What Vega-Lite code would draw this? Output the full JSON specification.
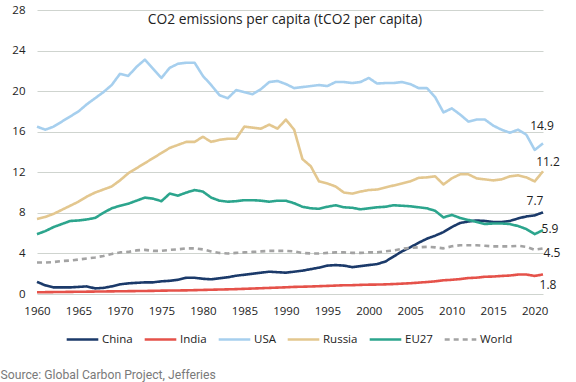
{
  "$schema": "https://vega.github.io/schema/vega-lite/v6.json",
  "width": 506,
  "height": 284,
  "autosize": {"type": "none"},
  "padding": {"left": 37, "top": 10, "right": 33, "bottom": 88},
  "title": {
    "text": "CO2 emissions per capita (tCO2 per capita)",
    "font": "Open Sans",
    "fontSize": 13.8,
    "fontWeight": "normal",
    "color": "#222222",
    "anchor": "middle",
    "baseline": "alphabetic",
    "offset": -34,
    "dx": -5
  },
  "datasets": {
    "co2": [
      {"year": 1960, "China": 1.2, "India": 0.17, "USA": 16.5, "Russia": 7.4, "EU27": 5.9, "World": 3.1},
      {"year": 1961, "China": 0.85, "India": 0.18, "USA": 16.2, "Russia": 7.6, "EU27": 6.2, "World": 3.1},
      {"year": 1962, "China": 0.65, "India": 0.19, "USA": 16.5, "Russia": 7.9, "EU27": 6.6, "World": 3.15},
      {"year": 1963, "China": 0.65, "India": 0.2, "USA": 17.0, "Russia": 8.3, "EU27": 6.9, "World": 3.25},
      {"year": 1964, "China": 0.65, "India": 0.21, "USA": 17.5, "Russia": 8.7, "EU27": 7.2, "World": 3.3},
      {"year": 1965, "China": 0.7, "India": 0.22, "USA": 18.0, "Russia": 9.1, "EU27": 7.25, "World": 3.4},
      {"year": 1966, "China": 0.75, "India": 0.23, "USA": 18.7, "Russia": 9.6, "EU27": 7.35, "World": 3.5},
      {"year": 1967, "China": 0.55, "India": 0.24, "USA": 19.3, "Russia": 10.0, "EU27": 7.5, "World": 3.6},
      {"year": 1968, "China": 0.6, "India": 0.25, "USA": 19.9, "Russia": 10.3, "EU27": 8.0, "World": 3.75},
      {"year": 1969, "China": 0.75, "India": 0.26, "USA": 20.6, "Russia": 10.6, "EU27": 8.45, "World": 3.95},
      {"year": 1970, "China": 0.95, "India": 0.27, "USA": 21.7, "Russia": 11.2, "EU27": 8.7, "World": 4.1},
      {"year": 1971, "China": 1.05, "India": 0.28, "USA": 21.5, "Russia": 11.9, "EU27": 8.9, "World": 4.15},
      {"year": 1972, "China": 1.1, "India": 0.29, "USA": 22.4, "Russia": 12.4, "EU27": 9.2, "World": 4.3},
      {"year": 1973, "China": 1.15, "India": 0.3, "USA": 23.1, "Russia": 12.9, "EU27": 9.5, "World": 4.35},
      {"year": 1974, "China": 1.15, "India": 0.31, "USA": 22.2, "Russia": 13.4, "EU27": 9.4, "World": 4.25},
      {"year": 1975, "China": 1.25, "India": 0.33, "USA": 21.3, "Russia": 13.9, "EU27": 9.15, "World": 4.25},
      {"year": 1976, "China": 1.3, "India": 0.34, "USA": 22.3, "Russia": 14.4, "EU27": 9.9, "World": 4.35},
      {"year": 1977, "China": 1.4, "India": 0.35, "USA": 22.7, "Russia": 14.7, "EU27": 9.7, "World": 4.4},
      {"year": 1978, "China": 1.6, "India": 0.36, "USA": 22.8, "Russia": 15.0, "EU27": 10.0, "World": 4.5},
      {"year": 1979, "China": 1.6, "India": 0.38, "USA": 22.8, "Russia": 15.0, "EU27": 10.25, "World": 4.5},
      {"year": 1980, "China": 1.5, "India": 0.4, "USA": 21.5, "Russia": 15.5, "EU27": 10.1, "World": 4.4},
      {"year": 1981, "China": 1.45, "India": 0.42, "USA": 20.6, "Russia": 15.0, "EU27": 9.5, "World": 4.2},
      {"year": 1982, "China": 1.55, "India": 0.44, "USA": 19.6, "Russia": 15.2, "EU27": 9.2, "World": 4.05},
      {"year": 1983, "China": 1.65, "India": 0.46, "USA": 19.3, "Russia": 15.3, "EU27": 9.1, "World": 4.0},
      {"year": 1984, "China": 1.8, "India": 0.48, "USA": 20.1, "Russia": 15.3, "EU27": 9.15, "World": 4.05},
      {"year": 1985, "China": 1.9, "India": 0.51, "USA": 19.9, "Russia": 16.5, "EU27": 9.25, "World": 4.1},
      {"year": 1986, "China": 2.0, "India": 0.54, "USA": 19.7, "Russia": 16.4, "EU27": 9.25, "World": 4.15},
      {"year": 1987, "China": 2.1, "India": 0.57, "USA": 20.2, "Russia": 16.3, "EU27": 9.2, "World": 4.2},
      {"year": 1988, "China": 2.2, "India": 0.6, "USA": 20.9, "Russia": 16.7, "EU27": 9.1, "World": 4.25},
      {"year": 1989, "China": 2.15, "India": 0.63, "USA": 21.0, "Russia": 16.3, "EU27": 9.2, "World": 4.25},
      {"year": 1990, "China": 2.1, "India": 0.66, "USA": 20.7, "Russia": 17.2, "EU27": 9.2, "World": 4.25},
      {"year": 1991, "China": 2.2, "India": 0.7, "USA": 20.3, "Russia": 16.2, "EU27": 8.95, "World": 4.2},
      {"year": 1992, "China": 2.3, "India": 0.72, "USA": 20.4, "Russia": 13.3, "EU27": 8.6, "World": 4.05},
      {"year": 1993, "China": 2.45, "India": 0.74, "USA": 20.5, "Russia": 12.6, "EU27": 8.45, "World": 4.0},
      {"year": 1994, "China": 2.6, "India": 0.77, "USA": 20.6, "Russia": 11.1, "EU27": 8.4, "World": 4.0},
      {"year": 1995, "China": 2.8, "India": 0.8, "USA": 20.5, "Russia": 10.9, "EU27": 8.6, "World": 4.05},
      {"year": 1996, "China": 2.85, "India": 0.83, "USA": 20.9, "Russia": 10.6, "EU27": 8.75, "World": 4.1},
      {"year": 1997, "China": 2.8, "India": 0.86, "USA": 20.9, "Russia": 10.0, "EU27": 8.55, "World": 4.1},
      {"year": 1998, "China": 2.65, "India": 0.87, "USA": 20.8, "Russia": 9.9, "EU27": 8.5, "World": 4.05},
      {"year": 1999, "China": 2.75, "India": 0.9, "USA": 20.9, "Russia": 10.1, "EU27": 8.35, "World": 4.05},
      {"year": 2000, "China": 2.85, "India": 0.92, "USA": 21.3, "Russia": 10.25, "EU27": 8.45, "World": 4.1},
      {"year": 2001, "China": 2.95, "India": 0.93, "USA": 20.75, "Russia": 10.3, "EU27": 8.55, "World": 4.1},
      {"year": 2002, "China": 3.2, "India": 0.95, "USA": 20.8, "Russia": 10.5, "EU27": 8.6, "World": 4.2},
      {"year": 2003, "China": 3.7, "India": 0.98, "USA": 20.8, "Russia": 10.7, "EU27": 8.75, "World": 4.3},
      {"year": 2004, "China": 4.2, "India": 1.02, "USA": 20.9, "Russia": 10.9, "EU27": 8.7, "World": 4.45},
      {"year": 2005, "China": 4.6, "India": 1.06, "USA": 20.7, "Russia": 11.1, "EU27": 8.65, "World": 4.55},
      {"year": 2006, "China": 5.05, "India": 1.12, "USA": 20.3, "Russia": 11.45, "EU27": 8.55, "World": 4.6},
      {"year": 2007, "China": 5.45, "India": 1.18, "USA": 20.3, "Russia": 11.5, "EU27": 8.45, "World": 4.65},
      {"year": 2008, "China": 5.75, "India": 1.25, "USA": 19.4, "Russia": 11.6, "EU27": 8.2, "World": 4.6},
      {"year": 2009, "China": 6.1, "India": 1.35, "USA": 17.9, "Russia": 10.8, "EU27": 7.55, "World": 4.5},
      {"year": 2010, "China": 6.6, "India": 1.4, "USA": 18.3, "Russia": 11.4, "EU27": 7.8, "World": 4.7},
      {"year": 2011, "China": 7.0, "India": 1.47, "USA": 17.7, "Russia": 11.8, "EU27": 7.5, "World": 4.8},
      {"year": 2012, "China": 7.15, "India": 1.57, "USA": 17.0, "Russia": 11.8, "EU27": 7.3, "World": 4.8},
      {"year": 2013, "China": 7.25, "India": 1.61, "USA": 17.2, "Russia": 11.4, "EU27": 7.1, "World": 4.8},
      {"year": 2014, "China": 7.2, "India": 1.7, "USA": 17.2, "Russia": 11.3, "EU27": 6.9, "World": 4.75},
      {"year": 2015, "China": 7.1, "India": 1.72, "USA": 16.6, "Russia": 11.2, "EU27": 6.95, "World": 4.7},
      {"year": 2016, "China": 7.1, "India": 1.78, "USA": 16.2, "Russia": 11.3, "EU27": 6.95, "World": 4.7},
      {"year": 2017, "China": 7.2, "India": 1.82, "USA": 15.9, "Russia": 11.6, "EU27": 6.9, "World": 4.7},
      {"year": 2018, "China": 7.45, "India": 1.92, "USA": 16.2, "Russia": 11.7, "EU27": 6.7, "World": 4.75},
      {"year": 2019, "China": 7.65, "India": 1.92, "USA": 15.7, "Russia": 11.5, "EU27": 6.4, "World": 4.65},
      {"year": 2020, "China": 7.75, "India": 1.78, "USA": 14.2, "Russia": 11.1, "EU27": 5.9, "World": 4.35},
      {"year": 2021, "China": 8.05, "India": 1.93, "USA": 14.85, "Russia": 12.1, "EU27": 6.3, "World": 4.5}
    ],
    "labels": [
      {"country": "USA", "year": 2021, "value": 14.9, "label": "14.9"},
      {"country": "Russia", "year": 2021, "value": 11.2, "label": "11.2"},
      {"country": "China", "year": 2021, "value": 7.7, "label": "7.7"},
      {"country": "EU27", "year": 2021, "value": 5.9, "label": "5.9"},
      {"country": "World", "year": 2021, "value": 4.5, "label": "4.5"},
      {"country": "India", "year": 2021, "value": 1.8, "label": "1.8"}
    ]
  },
  "encoding": {
    "x": {
      "field": "year",
      "type": "quantitative",
      "scale": {"domain": [1960, 2021], "nice": false, "zero": false},
      "axis": {
        "values": [1960, 1965, 1970, 1975, 1980, 1985, 1990, 1995, 2000, 2005, 2010, 2015, 2020],
        "format": "d",
        "grid": false,
        "labelFlush": false,
        "labelOverlap": false,
        "labelPadding": 11,
        "title": "Source: Global Carbon Project, Jefferies",
        "titleX": -37,
        "titleY": 84,
        "titleAnchor": "start",
        "titleAlign": "left",
        "titleBaseline": "alphabetic",
        "titleFont": "Roboto",
        "titleFontSize": 12.2,
        "titleFontWeight": "normal",
        "titleColor": "#7a7a7a"
      }
    },
    "y": {
      "field": "value",
      "type": "quantitative",
      "scale": {"domain": [0, 28], "nice": false},
      "axis": {
        "values": [0, 4, 8, 12, 16, 20, 24, 28],
        "grid": true,
        "labelPadding": 12,
        "title": null
      }
    }
  },
  "layer": [
    {
      "data": {"name": "co2"},
      "transform": [{"fold": ["China", "India", "USA", "Russia", "EU27", "World"], "as": ["country", "value"]}],
      "mark": {"type": "line", "strokeJoin": "round"},
      "encoding": {
        "color": {
          "field": "country",
          "type": "nominal",
          "title": null,
          "scale": {
            "domain": ["China", "India", "USA", "Russia", "EU27", "World"],
            "range": ["#1b3a6a", "#e5524a", "#a6cfee", "#e3c78f", "#2ca58d", "#a3a3a3"]
          }
        },
        "strokeDash": {
          "field": "country",
          "type": "nominal",
          "title": null,
          "scale": {
            "domain": ["China", "India", "USA", "Russia", "EU27", "World"],
            "range": [[1, 0], [1, 0], [1, 0], [1, 0], [1, 0], [5, 4]]
          }
        },
        "strokeWidth": {
          "field": "country",
          "type": "nominal",
          "title": null,
          "scale": {
            "domain": ["China", "India", "USA", "Russia", "EU27", "World"],
            "range": [2.6, 2.6, 2.6, 2.6, 2.6, 3.5]
          }
        }
      }
    },
    {
      "data": {"name": "labels"},
      "transform": [{"filter": "datum.country === 'USA'"}],
      "mark": {"type": "text", "align": "center", "baseline": "middle", "dx": -1, "dy": -17, "fontSize": 12, "color": "#222222"},
      "encoding": {"text": {"field": "label"}}
    },
    {
      "data": {"name": "labels"},
      "transform": [{"filter": "datum.country === 'Russia'"}],
      "mark": {"type": "text", "align": "center", "baseline": "middle", "dx": 5, "dy": -18.6, "fontSize": 12, "color": "#222222"},
      "encoding": {"text": {"field": "label"}}
    },
    {
      "data": {"name": "labels"},
      "transform": [{"filter": "datum.country === 'China'"}],
      "mark": {"type": "text", "align": "center", "baseline": "middle", "dx": -8, "dy": -15, "fontSize": 12, "color": "#222222"},
      "encoding": {"text": {"field": "label"}}
    },
    {
      "data": {"name": "labels"},
      "transform": [{"filter": "datum.country === 'EU27'"}],
      "mark": {"type": "text", "align": "center", "baseline": "middle", "dx": 7, "dy": -5, "fontSize": 12, "color": "#222222"},
      "encoding": {"text": {"field": "label"}}
    },
    {
      "data": {"name": "labels"},
      "transform": [{"filter": "datum.country === 'World'"}],
      "mark": {"type": "text", "align": "center", "baseline": "middle", "dx": 9, "dy": 5, "fontSize": 12, "color": "#222222"},
      "encoding": {"text": {"field": "label"}}
    },
    {
      "data": {"name": "labels"},
      "transform": [{"filter": "datum.country === 'India'"}],
      "mark": {"type": "text", "align": "center", "baseline": "middle", "dx": 5, "dy": 9, "fontSize": 12, "color": "#222222"},
      "encoding": {"text": {"field": "label"}}
    }
  ],
  "config": {
    "view": {"stroke": null},
    "font": "Open Sans",
    "text": {"font": "Open Sans"},
    "axis": {
      "labelFont": "Open Sans",
      "labelFontSize": 11.5,
      "labelColor": "#222222",
      "domain": false,
      "ticks": false,
      "gridColor": "#cfd4cf",
      "gridWidth": 1
    },
    "legend": {
      "orient": "none",
      "legendX": 28,
      "legendY": 312,
      "direction": "horizontal",
      "gridAlign": "none",
      "symbolType": "stroke",
      "symbolSize": 1000,
      "symbolStrokeWidth": 3.5,
      "labelFont": "Open Sans",
      "labelFontSize": 11.5,
      "labelColor": "#222222",
      "labelOffset": 2,
      "columnPadding": 6
    }
  }
}
